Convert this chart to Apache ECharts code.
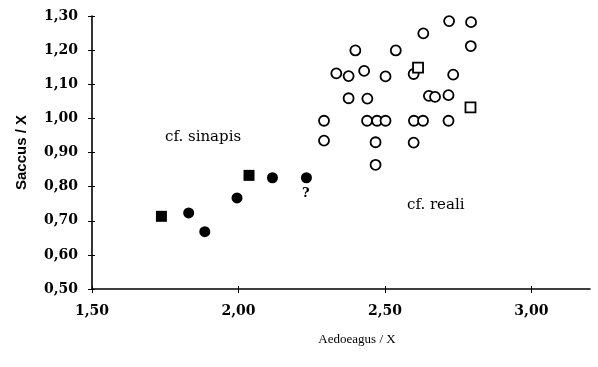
<!DOCTYPE html>
<html>
<head>
<meta charset="utf-8">
<script src="https://cdn.jsdelivr.net/npm/echarts@6/dist/echarts.min.js"></script>
<style>
html,body{margin:0;padding:0;background:#fff;}
#c{width:598px;height:367px;}
</style>
</head>
<body>
<div id="c"></div>
<script>
// cf. sinapis (filled markers)
var sinapisCircleX = [1.830, 1.885, 1.995, 2.116, 2.232];
var sinapisCircleY = [0.723, 0.668, 0.767, 0.826, 0.826];
var sinapisSquareX = [1.737, 2.036];
var sinapisSquareY = [0.713, 0.833];
// cf. reali (open markers)
var realiCircleX = [2.719, 2.794, 2.631, 2.399, 2.537, 2.793, 2.334, 2.376, 2.429, 2.502, 2.598, 2.733,
                    2.376, 2.440, 2.650, 2.671, 2.717,
                    2.292, 2.439, 2.473, 2.502, 2.599, 2.630, 2.717,
                    2.292, 2.468, 2.598, 2.468];
var realiCircleY = [1.285, 1.282, 1.249, 1.199, 1.199, 1.212, 1.132, 1.124, 1.139, 1.123, 1.130, 1.128,
                    1.059, 1.058, 1.066, 1.063, 1.068,
                    0.993, 0.993, 0.993, 0.993, 0.993, 0.993, 0.993,
                    0.935, 0.930, 0.929, 0.864];
var realiSquareX = [2.613, 2.792];
var realiSquareY = [1.149, 1.032];
// axis ticks
var xTicks = [1.5, 2.0, 2.5, 3.0];
var yTicks = [0.5, 0.6, 0.7, 0.8, 0.9, 1.0, 1.1, 1.2, 1.3];

function pairs(xs, ys) { return xs.map(function (x, i) { return [x, ys[i]]; }); }
function fmt(v) { return Number(v).toFixed(2).replace('.', ','); }

var chart = echarts.init(document.getElementById('c'));
var tickFont = { fontFamily: 'DejaVu Serif', fontWeight: 'bold', fontSize: 14, color: '#000' };
var axisLineStyle = { color: '#000', width: 1.6 };

chart.setOption({
  animation: false,
  grid: { left: 92, right: 8, top: 16, bottom: 78, containLabel: false },
  xAxis: [{
    type: 'value', min: 1.5, max: 3.2, position: 'bottom',
    axisLine: { show: true, onZero: false, lineStyle: axisLineStyle },
    axisTick: { show: true, length: 4, customValues: xTicks, lineStyle: { color: '#000', width: 1 } },
    axisLabel: { customValues: xTicks, formatter: fmt, margin: 15, fontFamily: tickFont.fontFamily, fontWeight: 'bold', fontSize: 14, color: '#000' },
    splitLine: { show: false },
    name: 'Aedoeagus / X', nameLocation: 'middle', nameGap: 44,
    nameTextStyle: { fontFamily: 'Liberation Serif', fontSize: 13, color: '#000', padding: [0, 0, 0, 32] }
  }, {
    type: 'value', min: 1.5, max: 3.2, position: 'bottom',
    axisLine: { show: false },
    axisTick: { show: true, inside: true, length: 3, customValues: xTicks, lineStyle: { color: '#000', width: 1 } },
    axisLabel: { show: false },
    splitLine: { show: false }
  }],
  yAxis: [{
    type: 'value', min: 0.5, max: 1.3, interval: 0.1, position: 'left',
    axisLine: { show: true, onZero: false, lineStyle: axisLineStyle },
    axisTick: { show: true, length: 4, customValues: yTicks, lineStyle: { color: '#000', width: 1 } },
    axisLabel: { customValues: yTicks, formatter: fmt, margin: 14, fontFamily: tickFont.fontFamily, fontWeight: 'bold', fontSize: 14, color: '#000' },
    splitLine: { show: false },
    name: 'Saccus / X', nameLocation: 'middle', nameGap: 63, nameRotate: 90,
    nameTextStyle: { fontFamily: 'Liberation Sans', fontWeight: 'bold', fontSize: 15, color: '#000' }
  }, {
    type: 'value', min: 0.5, max: 1.3, interval: 0.1, position: 'left',
    axisLine: { show: false },
    axisTick: { show: true, inside: true, length: 3, customValues: yTicks, lineStyle: { color: '#000', width: 1 } },
    axisLabel: { show: false },
    splitLine: { show: false }
  }],
  series: [
    { name: 'cf. reali circles', type: 'scatter', symbol: 'circle', symbolSize: 10,
      itemStyle: { color: '#fff', borderColor: '#000', borderWidth: 1.8, opacity: 1 },
      data: pairs(realiCircleX, realiCircleY) },
    { name: 'cf. reali squares', type: 'scatter', symbol: 'rect', symbolSize: 10,
      itemStyle: { color: '#fff', borderColor: '#000', borderWidth: 1.8, opacity: 1 },
      data: pairs(realiSquareX, realiSquareY) },
    { name: 'cf. sinapis circles', type: 'scatter', symbol: 'circle', symbolSize: 11,
      itemStyle: { color: '#000', opacity: 1 },
      data: pairs(sinapisCircleX, sinapisCircleY) },
    { name: 'cf. sinapis squares', type: 'scatter', symbol: 'rect', symbolSize: 11,
      itemStyle: { color: '#000', opacity: 1 },
      data: pairs(sinapisSquareX, sinapisSquareY) }
  ],
  graphic: [
    { type: 'text', left: 165, top: 130, style: { text: 'cf. sinapis', fontFamily: 'DejaVu Serif', fontSize: 15, fill: '#000' } },
    { type: 'text', left: 407, top: 198, style: { text: 'cf. reali', fontFamily: 'DejaVu Serif', fontSize: 15, fill: '#000' } },
    { type: 'text', left: 302, top: 187, style: { text: '?', fontFamily: 'DejaVu Serif', fontWeight: 'bold', fontSize: 13, fill: '#000' } }
  ]
});
</script>
</body>
</html>
